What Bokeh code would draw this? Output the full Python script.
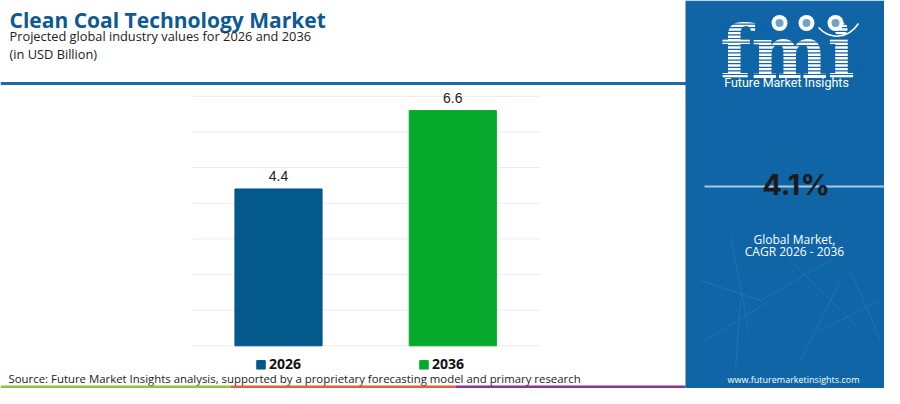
from bokeh.plotting import figure
from bokeh.models import Range1d
from bokeh.core.properties import value
from bokeh.embed import file_html
from bokeh.resources import INLINE

# ---- data ----
years = ["2026", "2036"]
market_values = [4.4, 6.6]
bar_colors = ["#03588c", "#06a92c"]
grid_values = [0, 1, 2, 3, 4, 5, 6, 7]
cagr_text = "4.1%"
title = "Clean Coal Technology Market"
subtitle = "Projected global industry values for 2026 and 2036"
unit_text = "(in USD Billion)"
source_text = "Source: Future Market Insights analysis, supported by a proprietary forecasting model and primary research"

W, H = 884, 388
p = figure(width=W, height=H, output_backend="svg", toolbar_location=None,
           x_range=Range1d(0, W), y_range=Range1d(H, 0),
           x_axis_type=None, y_axis_type=None, min_border=0)
p.outline_line_color = None
p.grid.visible = False
p.background_fill_color = "white"
p.border_fill_color = "white"

# value / category scales for the bars (mapped onto the chart area)
px_per_unit = 35.64
zero_y = 345.3
p.extra_y_ranges = {"val": Range1d((zero_y - H) / px_per_unit, zero_y / px_per_unit)}
cat_px = 174.3
cat0_x = 278.0
p.extra_x_ranges = {"cat": Range1d(-cat0_x / cat_px, (W - cat0_x) / cat_px)}
idx = list(range(len(years)))

# gridlines
p.segment(x0=[-0.495] * len(grid_values), x1=[1.503] * len(grid_values),
          y0=grid_values, y1=grid_values, line_color="#ececec", line_width=1,
          x_range_name="cat", y_range_name="val")

# bars
p.vbar(x=idx, top=market_values, width=0.5, bottom=0, color=bar_colors,
       x_range_name="cat", y_range_name="val")
p.text(x=idx, y=market_values, text=[f"{v:.1f}" for v in market_values],
       x_range_name="cat", y_range_name="val", y_offset=-13,
       text_align="center", text_baseline="middle",
       text_font=value("Liberation Sans"), text_font_size="14px", text_color="#222222")

# titles
p.text(x=[9], y=[19], text=[title], text_font=value("Open Sans"), text_font_style="bold",
       text_font_size="21px", text_color="#0d5a92", text_baseline="middle")
p.text(x=[9, 9], y=[35, 53], text=[subtitle, unit_text], text_font=value("Open Sans"),
       text_font_size="12.8px", text_color="#222222", text_baseline="middle")

# blue rule
p.segment(x0=[0], x1=[686], y0=[83], y1=[83], line_color="#1d6ba8", line_width=3)

# legend
leg_x = [260.5, 423.5]
p.scatter(x=leg_x, y=[364.3, 364.3], marker="square", size=8.5, color=bar_colors)
p.text(x=[x + 8 for x in leg_x], y=[363.5, 363.5], text=years, text_font=value("Open Sans"),
       text_font_style="bold", text_font_size="14px", text_color="#111111",
       text_baseline="middle")

# source
p.text(x=[8], y=[378], text=[source_text], text_font=value("Open Sans"),
       text_font_size="11.4px", text_color="#222222", text_baseline="middle")

# bottom strip
p.quad(left=[0, 230, 455], right=[230, 455, 685], bottom=[388, 388, 388], top=[385, 385, 385],
       color=["#8cc63e", "#e5603a", "#8a3490"], line_color=None)

# right panel
panel = "#0f65a6"
p.quad(left=[685], right=[W], top=[0], bottom=[H], color=panel, line_color=None)

# faint network texture in the panel
p.segment(x0=[700, 730, 760, 790, 820, 705, 740, 800, 850],
          y0=[280, 235, 300, 260, 330, 340, 300, 360, 270],
          x1=[760, 748, 830, 860, 880, 770, 735, 840, 880],
          y1=[300, 330, 260, 330, 300, 300, 370, 280, 340],
          line_color="white", line_alpha=0.08, line_width=1)

# fmi logo
p.text(x=[787], y=[52], text=["fmi"], text_font=value("DejaVu Serif"), text_font_style="bold",
       text_font_size="72px", text_color="white", text_align="center", text_baseline="middle")
stripe_y = [20 + 3.6 * i for i in range(16)]
p.segment(x0=[716] * len(stripe_y), x1=[860] * len(stripe_y), y0=stripe_y, y1=stripe_y,
          line_color=panel, line_width=1.2)
p.scatter(x=[779, 806, 835], y=[22.5, 22.5, 22.5], size=16, color="white", line_color=None)
p.scatter(x=[779, 806, 835], y=[22.5, 22.5, 22.5], size=8, color=panel, line_color=None, alpha=0.6)
p.bezier(x0=[818], y0=[27], x1=[858], y1=[23], cx0=[830], cy0=[40], cx1=[848], cy1=[38],
         line_color="white", line_width=1.5)
p.text(x=[786], y=[82], text=["Future Market Insights"], text_font=value("Roboto"),
       text_font_size="12.5px", text_color="white", text_align="center", text_baseline="middle")

# CAGR
p.segment(x0=[704], x1=[884], y0=[186], y1=[186], line_color="#a9c9e3", line_width=2)
p.text(x=[795.5], y=[184], text=[cagr_text], text_font=value("Inter"), text_font_style="bold",
       text_font_size="29px", text_color="#1b1b1b", text_align="center", text_baseline="middle")
p.text(x=[794, 794], y=[238.5, 251], text=["Global Market,", "CAGR 2026 - 2036"],
       text_font=value("Open Sans"), text_font_size="12px", text_color="white",
       text_align="center", text_baseline="middle")
p.text(x=[793], y=[379], text=["www.futuremarketinsights.com"], text_font=value("Open Sans"),
       text_font_size="9px", text_color="white", text_align="center", text_baseline="middle")

open("out.html", "w").write(file_html(p, INLINE))
